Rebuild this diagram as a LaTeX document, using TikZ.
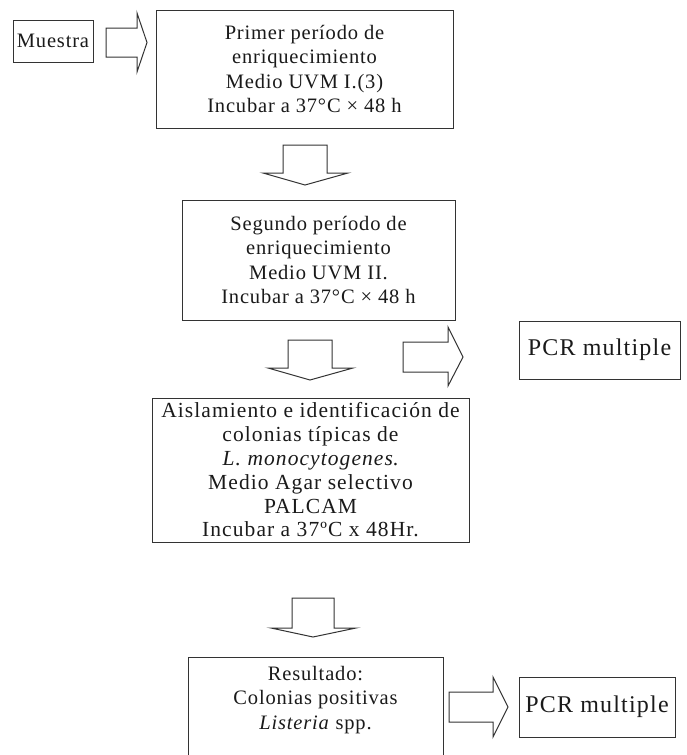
\documentclass[tikz,border=0pt]{standalone}
\usepackage{fontspec}
\setmainfont{Liberation Serif}[LetterSpace=4]
\newfontfamily\pcrfont{Liberation Serif}[LetterSpace=5]
\newfontfamily\widefont{Liberation Serif}[LetterSpace=5]
\definecolor{linec}{HTML}{333333}
\definecolor{textc}{HTML}{1A1A1A}
\begin{document}
\begin{tikzpicture}[x=1pt,y=-1pt,
  box/.style={draw=linec, line width=1pt, fill=none, inner sep=0pt},
  txt/.style={align=center, inner sep=0pt, text=textc, font=\fontsize{20.5}{24.5}\selectfont},
  wtxt/.style={align=center, inner sep=0pt, text=textc, font=\widefont\fontsize{21.5}{23.8}\selectfont},
  pcr/.style={inner sep=0pt, text=textc, font=\pcrfont\fontsize{24}{28}\selectfont},
  blockarrow/.style={draw=linec, line width=1pt, line join=miter, fill=white}]
\useasboundingbox (0,0) rectangle (686,755);
\clip (0,0) rectangle (686,755);

% boxes
\node[box, minimum width=80pt, minimum height=42pt] (m) at (53,41) {};
\node[txt] (mt) at (m.center) {Muestra};

\node[box, minimum width=297pt, minimum height=118pt] (b1) at (304.5,69) {};
\node[txt] (t1) at (b1.center) {Primer período de\\enriquecimiento\\Medio UVM I.(3)\\Incubar a 37°C × 48 h};

\node[box, minimum width=273pt, minimum height=120pt] (b2) at (318.5,260) {};
\node[txt] (t2) at (b2.center) {Segundo período de\\enriquecimiento\\Medio UVM II.\\Incubar a 37°C × 48 h};

\node[box, minimum width=161pt, minimum height=58pt] (p1) at (599.5,350) {};
\node[pcr] (p1t) at (p1.center) {PCR multiple};

\node[box, minimum width=317pt, minimum height=144pt] (b3) at (310.5,470) {};
\node[wtxt] (t3) at (b3.center) {Aislamiento e identificación de\\colonias típicas de\\\textit{L. monocytogenes}.\\Medio Agar selectivo\\PALCAM\\Incubar a 37ºC x 48Hr.};

\node[box, minimum width=255pt, minimum height=110pt] (b4) at (315.5,712) {};
\node[txt] (t4) at (315.5,700) {Resultado:\\Colonias positivas\\\textit{Listeria} spp.};

\node[box, minimum width=156pt, minimum height=60pt] (p2) at (597,707) {};
\node[pcr] (p2t) at (p2.center) {PCR multiple};

% right block arrows
\draw[blockarrow] (106,28) -- (137,28) -- (137,13) -- (147,42.5) -- (137,72) -- (137,57) -- (106,57) -- cycle;
\draw[blockarrow] (403,342) -- (448,342) -- (448,327) -- (463,357) -- (448,386) -- (448,372) -- (403,372) -- cycle;
\draw[blockarrow] (449,692) -- (493,692) -- (493,677) -- (508,707) -- (493,737) -- (493,722) -- (449,722) -- cycle;

% down block arrows
\draw[blockarrow] (283,145) -- (327,145) -- (327,173) -- (348,173) -- (305,185) -- (263,173) -- (283,173) -- cycle;
\draw[blockarrow] (288,340) -- (332,340) -- (332,368) -- (353,368) -- (310,380) -- (268,368) -- (288,368) -- cycle;
\draw[blockarrow] (292,598) -- (334,598) -- (334,628) -- (356,628) -- (313,637) -- (271,628) -- (292,628) -- cycle;
\end{tikzpicture}
\end{document}
